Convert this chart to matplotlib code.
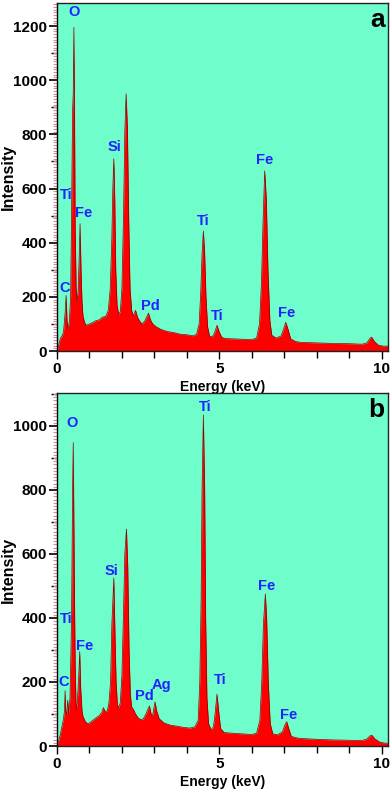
import matplotlib
matplotlib.use("Agg")
import matplotlib.pyplot as plt
from matplotlib.ticker import MultipleLocator

plt.rcParams['font.family'] = ['Liberation Sans', 'DejaVu Sans']

# ---- spectrum a (energy keV, intensity counts) ----
energy_a = [0.00, 0.05, 0.10, 0.15, 0.20, 0.25, 0.28, 0.31, 0.34, 0.38, 0.42, 0.45, 0.48, 0.50, 0.52,
            0.54, 0.56, 0.59, 0.62, 0.65, 0.68, 0.71, 0.74, 0.77, 0.80, 0.85, 0.90, 1.00, 1.10, 1.20,
            1.30, 1.40, 1.50, 1.58, 1.64, 1.69, 1.72, 1.75, 1.78, 1.81, 1.85, 1.90, 1.95, 2.00, 2.05,
            2.09, 2.13, 2.17, 2.21, 2.25, 2.30, 2.35, 2.42, 2.48, 2.55, 2.62, 2.70, 2.76, 2.82, 2.88,
            2.95, 3.05, 3.20, 3.40, 3.60, 3.80, 4.00, 4.20, 4.30, 4.38, 4.43, 4.47, 4.51, 4.55, 4.59,
            4.64, 4.70, 4.78, 4.85, 4.93, 5.00, 5.08, 5.20, 5.40, 5.60, 5.80, 6.00, 6.15, 6.24, 6.30,
            6.35, 6.40, 6.45, 6.50, 6.56, 6.62, 6.75, 6.90, 6.98, 7.05, 7.12, 7.20, 7.35, 7.50, 8.00,
            8.50, 9.00, 9.40, 9.55, 9.65, 9.70, 9.78, 9.90, 10.05, 10.20]
counts_a = [0, 20, 45, 55, 70, 140, 205, 110, 80, 110, 200, 520, 890, 950, 1195,
            880, 450, 230, 185, 220, 330, 470, 300, 180, 130, 105, 95, 100, 105, 112,
            115, 125, 128, 150, 230, 420, 600, 710, 560, 300, 170, 135, 145, 230, 500,
            810, 950, 820, 480, 230, 150, 130, 150, 125, 110, 100, 110, 125, 140, 115,
            100, 90, 80, 72, 68, 62, 60, 56, 62, 100, 220, 360, 443, 360, 200,
            90, 55, 52, 65, 95, 70, 50, 46, 45, 44, 43, 42, 48, 100, 250,
            480, 665, 560, 300, 110, 58, 48, 55, 80, 106, 80, 45, 35, 32, 30,
            28, 27, 25, 30, 48, 51, 35, 22, 18, 18]

# ---- spectrum b ----
energy_b = [0.00, 0.05, 0.10, 0.15, 0.20, 0.23, 0.25, 0.27, 0.30, 0.33, 0.36, 0.40, 0.43, 0.45, 0.48,
            0.50, 0.52, 0.54, 0.56, 0.59, 0.62, 0.65, 0.68, 0.70, 0.73, 0.77, 0.80, 0.88, 0.95, 1.00,
            1.10, 1.20, 1.30, 1.38, 1.43, 1.48, 1.55, 1.60, 1.65, 1.69, 1.72, 1.75, 1.78, 1.82, 1.86,
            1.90, 1.95, 2.00, 2.05, 2.09, 2.14, 2.18, 2.22, 2.26, 2.30, 2.35, 2.42, 2.50, 2.58, 2.66,
            2.74, 2.80, 2.85, 2.90, 2.94, 2.98, 3.02, 3.07, 3.15, 3.30, 3.50, 3.70, 3.90, 4.10, 4.25,
            4.35, 4.40, 4.44, 4.47, 4.51, 4.55, 4.58, 4.62, 4.67, 4.75, 4.82, 4.87, 4.93, 4.98, 5.04,
            5.15, 5.40, 5.70, 6.00, 6.15, 6.25, 6.31, 6.36, 6.42, 6.46, 6.51, 6.57, 6.65, 6.80, 6.95,
            7.02, 7.08, 7.14, 7.22, 7.40, 7.60, 8.00, 8.50, 9.00, 9.40, 9.55, 9.65, 9.70, 9.80, 9.95,
            10.10, 10.20]
counts_b = [0, 15, 35, 60, 85, 110, 173, 110, 100, 143, 100, 150, 300, 420, 800,
            948, 700, 450, 250, 112, 130, 180, 243, 295, 180, 110, 92, 75, 70, 72,
            80, 88, 95, 105, 120, 108, 110, 135, 200, 380, 450, 525, 380, 200, 130,
            119, 135, 220, 420, 600, 678, 560, 300, 160, 122, 115, 100, 88, 82, 85,
            100, 115, 125, 100, 92, 115, 138, 110, 85, 72, 65, 62, 58, 56, 60,
            80, 200, 450, 800, 1034, 800, 400, 150, 70, 50, 60, 100, 162, 110, 55,
            42, 40, 38, 36, 40, 80, 200, 380, 475, 400, 200, 70, 38, 35, 45,
            65, 76, 55, 30, 25, 23, 21, 19, 18, 17, 22, 32, 34, 22, 12,
            9, 9]

# ---- element labels: name, energy of label, height of label ----
labels_a = ['O', 'Ti', 'Fe', 'C', 'Si', 'Pd', 'Ti', 'Ti', 'Fe', 'Fe']
label_x_a = [0.52, 0.28, 0.83, 0.25, 1.76, 2.87, 4.49, 4.94, 6.39, 7.07]
label_y_a = [1250, 576, 510, 234, 753, 168, 481, 131, 705, 141]

labels_b = ['O', 'Ti', 'Fe', 'C', 'Si', 'Pd', 'Ag', 'Ti', 'Ti', 'Fe', 'Fe']
label_x_b = [0.46, 0.28, 0.86, 0.22, 1.68, 2.69, 3.23, 4.57, 5.03, 6.46, 7.15]
label_y_b = [1009, 397, 312, 200, 547, 156, 191, 1059, 206, 501, 97]

bg = '#6FFDCB'
W, H = 392, 793
fig = plt.figure(figsize=(W / 100, H / 100), dpi=100)

ax_a = fig.add_axes([57 / W, 1 - 351 / H, 331 / W, 348 / H])
ax_b = fig.add_axes([57 / W, 1 - 746 / H, 331 / W, 353 / H])


def draw_panel(ax, energy, counts, labels, lx, ly, ytop, letter):
    ax.set_facecolor(bg)
    ax.fill_between(energy, counts, 0, color='#FF0000', lw=0)
    ax.plot(energy, counts, color='#8a0000', lw=0.5)
    ax.set_xlim(0, 10.2)
    ax.set_ylim(0, ytop)

    ax.xaxis.set_major_locator(MultipleLocator(5))
    ax.xaxis.set_minor_locator(MultipleLocator(1))
    ax.yaxis.set_major_locator(MultipleLocator(200))
    ax.yaxis.set_minor_locator(MultipleLocator(10))
    ax.tick_params(axis='x', which='major', length=6, width=1, direction='out', labelsize=11, pad=2)
    ax.tick_params(axis='x', which='minor', length=5, width=1, direction='out')
    ax.tick_params(axis='y', which='major', length=6, width=1.2, direction='out', labelsize=11, pad=1)
    ax.tick_params(axis='y', which='minor', length=3, width=0.8, color='#d88a9a', direction='out')
    for t in ax.get_xticklabels() + ax.get_yticklabels():
        t.set_fontweight('bold')

    # medium ticks at the odd hundreds
    sec = ax.secondary_yaxis('left')
    sec.set_yticks([v for v in range(100, int(ytop), 200)])
    sec.tick_params(length=4, width=1, labelleft=False)
    sec.spines['left'].set_visible(False)

    for s in ax.spines.values():
        s.set_linewidth(1)
        s.set_color('#222222')
    ax.spines['left'].set_color('black')

    ax.set_xlabel('Energy (keV)', fontsize=10, fontweight='bold', labelpad=3)
    ax.set_ylabel('Intensity', fontsize=11.5, fontweight='bold')

    for name, x, y in zip(labels, lx, ly):
        ax.text(x, y, name, color='#2222ff', fontsize=10.5, fontweight='bold',
                ha='center', va='center')

    ax.text(0.99, 0.985, letter, transform=ax.transAxes, fontsize=19, fontweight='bold',
            ha='right', va='top', color='black')


draw_panel(ax_a, energy_a, counts_a, labels_a, label_x_a, label_y_a, 1285, 'a')
draw_panel(ax_b, energy_b, counts_b, labels_b, label_x_b, label_y_b, 1103, 'b')

ax_a.yaxis.set_label_coords(-0.125, 0.5)
ax_b.yaxis.set_label_coords(-0.125, 0.5)

fig.savefig('out.png', dpi=100, facecolor='white')
